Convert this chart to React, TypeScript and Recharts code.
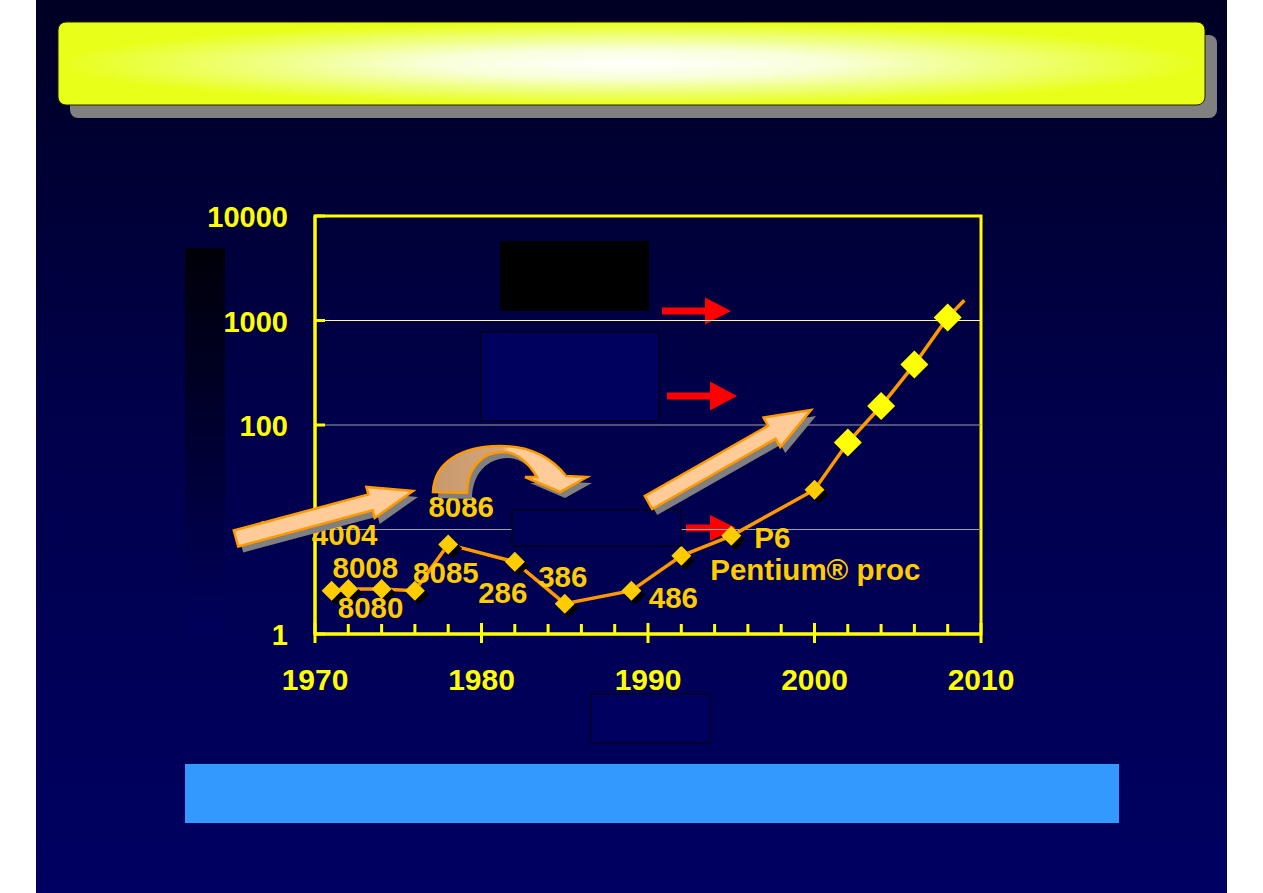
import React from 'react';
import { LineChart, Line, XAxis, YAxis, ReferenceLine, ReferenceArea, LabelList } from 'recharts';

// ---- data ----
const years = [1971, 1972, 1974, 1976, 1978, 1982, 1985, 1989, 1992, 1995, 2000, 2002, 2004, 2006, 2008, 2009];
const values = [2.6, 2.7, 2.7, 2.6, 7.2, 4.9, 1.95, 2.6, 5.6, 8.7, 24, 68, 152, 380, 1070, 1560];
const chipNames = ['4004', '8008', '8080', '8085', '8086', '286', '386', '486', '', 'P6', '', '', '', '', '', ''];
const xTicks = [1970, 1972, 1974, 1976, 1978, 1980, 1982, 1984, 1986, 1988, 1990, 1992, 1994, 1996, 1998, 2000, 2002, 2004, 2006, 2008, 2010];
const xLabelYears = [1970, 1980, 1990, 2000, 2010];
const yTicks = [1, 10, 100, 1000, 10000];
const gridValues = [10, 100, 1000];

const data = years.map((y, i) => ({ year: y, value: values[i], chip: chipNames[i] }));

const FONT = '"Liberation Sans", Arial, sans-serif';
const YELLOW = '#FFFF00';
const GOLD = '#FFCC00';

const labelPos: Record<string, { dx: number; dy: number; anchor: 'start' | 'middle' | 'end' }> = {
  '4004': { dx: 13, dy: -46, anchor: 'middle' },
  '8008': { dx: 17, dy: -11, anchor: 'middle' },
  '8080': { dx: -11, dy: 29, anchor: 'middle' },
  '8085': { dx: 31, dy: -8, anchor: 'middle' },
  '8086': { dx: 13, dy: -27, anchor: 'middle' },
  '286': { dx: -12, dy: 41, anchor: 'middle' },
  '386': { dx: -2, dy: -17, anchor: 'middle' },
  '486': { dx: 42, dy: 17, anchor: 'middle' },
  'P6': { dx: 23, dy: 12, anchor: 'start' },
};

const XTick = (props: any) => {
  const { x, y, payload } = props;
  const v = payload.value;
  const major = xLabelYears.includes(v);
  return (
    <g>
      <line x1={x} x2={x} y1={major ? y - 11 : y - 10} y2={major ? y + 9 : y} stroke={YELLOW} strokeWidth={3} />
      {major ? (
        <text x={x} y={y + 56} textAnchor="middle" fill={YELLOW} fontFamily={FONT} fontWeight="bold" fontSize={30}>
          {v}
        </text>
      ) : null}
    </g>
  );
};

const YTick = (props: any) => {
  const { x, y, payload } = props;
  return (
    <g>
      <line x1={x} x2={x + 10} y1={y} y2={y} stroke={YELLOW} strokeWidth={3} />
      <text x={x - 27} y={y + 11} textAnchor="end" fill={YELLOW} fontFamily={FONT} fontWeight="bold" fontSize={29}>
        {payload.value}
      </text>
    </g>
  );
};

const renderDot = (props: any) => {
  const { cx, cy, index, payload } = props;
  if (index === data.length - 1 || cx == null || cy == null) return <g key={`d${index}`} />;
  const big = payload.year > 2000;
  const r = big ? 14 : 10;
  const dia = (ox: number, oy: number, rr: number) =>
    `${cx + ox},${cy + oy - rr} ${cx + ox + rr},${cy + oy} ${cx + ox},${cy + oy + rr} ${cx + ox - rr},${cy + oy}`;
  return (
    <g key={`d${index}`}>
      {!big ? <polygon points={dia(4, 4, r)} fill="#000000" /> : null}
      <polygon points={dia(0, 0, r)} fill={big ? YELLOW : GOLD} />
    </g>
  );
};

const renderLabel = (props: any) => {
  const { x, y, value, index } = props;
  if (!value) return null;
  const p = labelPos[value];
  if (!p) return null;
  return (
    <g key={`l${index}`}>
      <text x={x + p.dx} y={y + p.dy} textAnchor={p.anchor} fill={GOLD} fontFamily={FONT} fontWeight="bold" fontSize={29.5}>
        {value}
      </text>
      {value === 'P6' ? (
        <text x={x - 21} y={y + 44} textAnchor="start" fill={GOLD} fontFamily={FONT} fontWeight="bold" fontSize={29.5}>
          Pentium® proc
        </text>
      ) : null}
    </g>
  );
};

function arrowPoints(x0: number, y0: number, x1: number, y1: number, sh: number, hh: number, hl: number) {
  const dx = x1 - x0;
  const dy = y1 - y0;
  const len = Math.sqrt(dx * dx + dy * dy);
  const ux = dx / len;
  const uy = dy / len;
  const nx = -uy;
  const ny = ux;
  const bx = x1 - ux * hl;
  const by = y1 - uy * hl;
  const pts = [
    [x0 + nx * sh, y0 + ny * sh],
    [bx + nx * sh, by + ny * sh],
    [bx + nx * hh, by + ny * hh],
    [x1, y1],
    [bx - nx * hh, by - ny * hh],
    [bx - nx * sh, by - ny * sh],
    [x0 - nx * sh, y0 - ny * sh],
  ];
  return pts.map((p) => `${p[0].toFixed(1)},${p[1].toFixed(1)}`).join(' ');
}

const curvePath =
  'M433,492 C434,462 462,446 500,446 C530,446 552,458 566,476 L587,477 L560,492 L525,477 L537,477 C528,462 516,452 503,452 C482,452 467,468 467,493 Z';

export default function App() {
  return (
    <div style={{ position: 'absolute', left: 0, top: 0, width: 1263, height: 893, background: '#FFFFFF', overflow: 'hidden' }}>
      <div
        style={{
          position: 'absolute',
          left: 36,
          top: 0,
          width: 1191,
          height: 893,
          background: 'linear-gradient(to bottom, #000024 0%, #00004A 45%, #000062 100%)',
        }}
      />
      {/* bottom decoration layer */}
      <svg width={1263} height={893} style={{ position: 'absolute', left: 0, top: 0 }}>
        <defs>
          <linearGradient id="leftbar" x1="0" y1="0" x2="0" y2="1">
            <stop offset="0%" stopColor="#000008" />
            <stop offset="100%" stopColor="#00005C" />
          </linearGradient>
        </defs>
        <rect x={185} y={248} width={40} height={387} fill="url(#leftbar)" />
        <polygon points={arrowPoints(662, 311, 731, 311, 3.5, 13.5, 26)} fill="#FF0000" />
        <polygon points={arrowPoints(667, 396, 737, 396, 3.5, 14.5, 27)} fill="#FF0000" />
        <polygon points={arrowPoints(686, 528, 736, 528, 3.5, 13, 26)} fill="#FF0000" />
      </svg>
      <div style={{ position: 'absolute', left: 0, top: 0 }}>
        <LineChart width={1263} height={893} data={data} margin={{ top: 216, right: 282, bottom: 199, left: 235 }}>
          {gridValues.map((g) => (
            <ReferenceLine key={g} y={g} stroke={g === 1000 ? '#FFFF99' : '#A0A0A8'} strokeWidth={1} />
          ))}
          <XAxis
            dataKey="year"
            type="number"
            domain={[1970, 2010]}
            ticks={xTicks}
            interval={0}
            height={60}
            axisLine={{ stroke: YELLOW, strokeWidth: 3 }}
            tickLine={false}
            tickSize={0}
            tickMargin={0}
            tick={<XTick />}
            allowDataOverflow
          />
          <YAxis
            type="number"
            scale="log"
            domain={[1, 10000]}
            ticks={yTicks}
            interval={0}
            width={80}
            axisLine={{ stroke: YELLOW, strokeWidth: 3 }}
            tickLine={false}
            tickSize={0}
            tickMargin={0}
            tick={<YTick />}
            allowDataOverflow
          />
          <Line
            dataKey="value"
            stroke="#FF9900"
            strokeWidth={3.5}
            dot={renderDot}
            activeDot={false}
            isAnimationActive={false}
          >
            <LabelList dataKey="chip" content={renderLabel} />
          </Line>
          <ReferenceArea x1={1970} x2={2010} y1={1} y2={10000} fill="none" fillOpacity={0} stroke={YELLOW} strokeWidth={3} />
        </LineChart>
      </div>
      {/* top decoration layer */}
      <svg width={1263} height={893} style={{ position: 'absolute', left: 0, top: 0 }}>
        <defs>
          <radialGradient id="titleGrad" cx="50%" cy="50%" r="50%">
            <stop offset="0%" stopColor="#FFFFFF" />
            <stop offset="35%" stopColor="#F8FFD8" />
            <stop offset="70%" stopColor="#EEFF70" />
            <stop offset="100%" stopColor="#E8FF1A" />
          </radialGradient>
          <linearGradient id="curveGrad" x1="0" y1="0" x2="1" y2="0">
            <stop offset="0%" stopColor="#C8996C" />
            <stop offset="45%" stopColor="#D4A57A" />
            <stop offset="50%" stopColor="#FFCC99" />
            <stop offset="100%" stopColor="#FFCC99" />
          </linearGradient>
        </defs>
        {/* title bar */}
        <rect x={70} y={35} width={1147} height={83} rx={8} fill="#808080" />
        <rect x={58} y={22} width={1147} height={83} rx={8} fill="url(#titleGrad)" stroke="#222200" strokeWidth={1} />
        {/* boxes */}
        <rect x={500} y={241} width={149} height={70} fill="#000000" />
        <rect x={481} y={332} width={178} height={89} fill="#00005E" stroke="#000000" strokeWidth={1} />
        <rect x={512} y={510} width={169} height={36} fill="#000055" stroke="#000000" strokeWidth={1} />
        <rect x={591} y={694} width={119} height={49} fill="#000060" stroke="#000000" strokeWidth={1} />
        <rect x={185} y={764} width={934} height={59} fill="#3399FF" />
        {/* peach arrows */}
        <g transform="translate(5,6)">
          <polygon points={arrowPoints(236, 538.5, 413, 491, 8.3, 16, 44)} fill="#808080" />
          <path d={curvePath} fill="#808080" />
          <polygon points={arrowPoints(648.5, 502.5, 811, 410, 7.5, 17, 45)} fill="#808080" />
        </g>
        <polygon points={arrowPoints(236, 538.5, 413, 491, 8.3, 16, 44)} fill="#FFCC99" stroke="#FF9900" strokeWidth={2.5} strokeLinejoin="miter" />
        <path d={curvePath} fill="url(#curveGrad)" stroke="#FF9900" strokeWidth={2.5} />
        <polygon points={arrowPoints(648.5, 502.5, 811, 410, 7.5, 17, 45)} fill="#FFCC99" stroke="#FF9900" strokeWidth={2.5} />
      </svg>
    </div>
  );
}
